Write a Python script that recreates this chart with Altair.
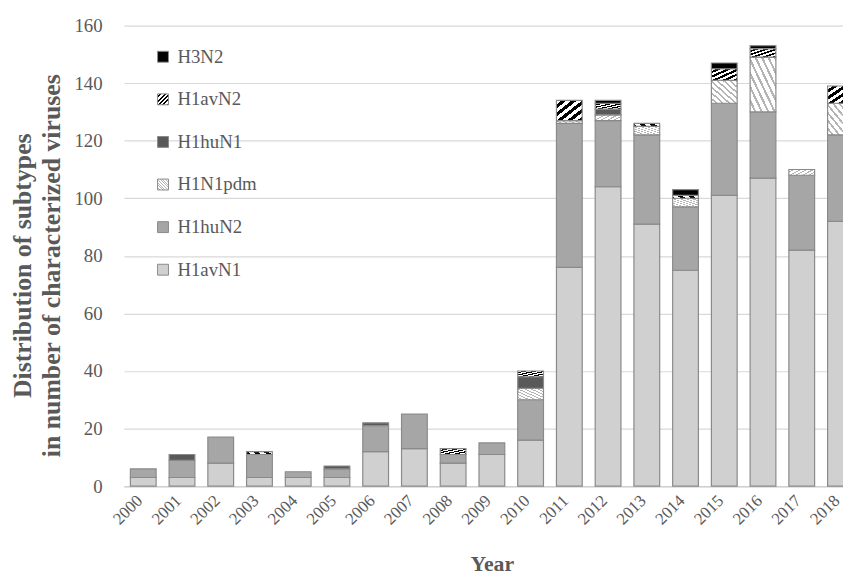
import altair as alt
import pandas as pd

years = [str(y) for y in range(2000, 2019)]
# stacked bottom -> top
subtypes = ["H1avN1", "H1huN2", "H1N1pdm", "H1huN1", "H1avN2", "H3N2"]
h1avn1 = [3, 3, 8, 3, 3, 3, 12, 13, 8, 11, 16, 76, 104, 91, 75, 101, 107, 82, 92]
h1hun2 = [3, 6, 9, 8, 2, 3, 9, 12, 3, 4, 14, 50, 23, 31, 22, 32, 23, 26, 30]
h1n1pdm = [0, 0, 0, 0, 0, 0, 0, 0, 0, 0, 4, 1, 2, 3, 3, 8, 19, 2, 11]
h1hun1 = [0, 2, 0, 0, 0, 1, 1, 0, 0, 0, 4, 0, 2, 0, 0, 0, 0, 0, 0]
h1avn2 = [0, 0, 0, 1, 0, 0, 0, 0, 2, 0, 2, 7, 2, 1, 1, 4, 3, 0, 6]
h3n2 = [0, 0, 0, 0, 0, 0, 0, 0, 0, 0, 0, 0, 1, 0, 2, 2, 1, 0, 0]
series = [h1avn1, h1hun2, h1n1pdm, h1hun1, h1avn2, h3n2]

rows = []
for i, yr in enumerate(years):
    for k, name in enumerate(subtypes):
        v = series[k][i]
        if v > 0:
            rows.append({"year": yr, "subtype": name, "count": v, "rank": k})
df = pd.DataFrame(rows)

legend_order = list(reversed(subtypes))


def hatch(bg, fg, n, frac, down):
    stops = []
    for j in range(n):
        a = j / n
        b = (j + 1 - frac) / n
        c = (j + 1) / n
        stops += [(a, bg), (b, bg), (b, fg), (c, fg)]
    s = ", ".join("{offset: %.4f, color: '%s'}" % (o, col) for o, col in stops)
    if down:
        coords = "x1: 0, y1: 1, x2: 1, y2: 0"
    else:
        coords = "x1: 0, y1: 0, x2: 1, y2: 1"
    return {"expr": "{gradient: 'linear', %s, stops: [%s]}" % (coords, s)}


color_range = [
    "#000000",                                  # H3N2
    hatch("#ffffff", "#000000", 5, 0.5, False),  # H1avN2
    "#595959",                                  # H1huN1
    hatch("#ffffff", "#b4b4b4", 8, 0.35, True),  # H1N1pdm
    "#a6a6a6",                                  # H1huN2
    "#d0d0d0",                                  # H1avN1
]

FONT = "Liberation Serif"
GREY = "#595959"

chart = alt.Chart(df).mark_bar(stroke="#8a8a8a", strokeWidth=1.2).encode(
    x=alt.X(
        "year:N",
        sort=years,
        scale=alt.Scale(range=[0, 743], paddingInner=0.335, paddingOuter=0.1675),
        axis=alt.Axis(
            title="Year",
            labelAngle=-45,
            labelFont=FONT,
            labelFontSize=17,
            labelColor=GREY,
            labelPadding=6,
            labelOffset=-9,
            ticks=False,
            domainColor="#d0d0d0",
            domainWidth=1.5,
            grid=False,
            titleFont=FONT,
            titleFontSize=22,
            titleFontWeight="bold",
            titleColor=GREY,
            titleX=371.5,
            titleY=68,
        ),
    ),
    y=alt.Y(
        "count:Q",
        stack="zero",
        scale=alt.Scale(domain=[0, 160]),
        axis=alt.Axis(
            title=["Distribution of subtypes", "in number of characterized viruses"],
            values=[0, 20, 40, 60, 80, 100, 120, 140, 160],
            labelFont=FONT,
            labelFontSize=19,
            labelColor=GREY,
            labelPadding=22,
            ticks=False,
            domain=False,
            gridColor="#d9d9d9",
            gridWidth=1.2,
            titleFont=FONT,
            titleFontSize=26,
            titleFontWeight="bold",
            titleColor=GREY,
            titlePadding=10,
            titleLineHeight=29,
            titleY=242,
        ),
    ),
    color=alt.Color(
        "subtype:N",
        scale=alt.Scale(domain=legend_order, range=color_range),
        legend=alt.Legend(
            title=None,
            orient="none",
            legendX=30,
            legendY=22,
            padding=0,
            symbolType="square",
            symbolSize=121,
            symbolStrokeColor="#8a8a8a",
            symbolStrokeWidth=1,
            labelFont=FONT,
            labelFontSize=19,
            labelColor=GREY,
            labelOffset=5,
            rowPadding=23,
        ),
    ),
    order=alt.Order("rank:Q", sort="ascending"),
).properties(
    width=726,
    height=465,
    autosize=alt.AutoSizeParams(type="none"),
    padding={"left": 117, "top": 15, "right": 0, "bottom": 88},
).configure_view(stroke=None)

chart.save("out.html", embed_options={"renderer": "svg", "actions": False})
